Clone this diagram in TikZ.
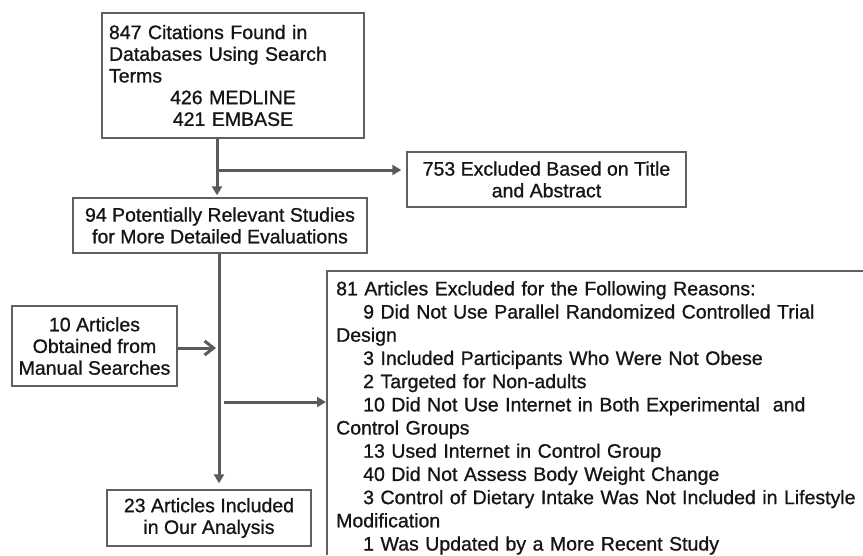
\documentclass[tikz,border=0pt]{standalone}
\usepackage{fontspec}
\setmainfont{Liberation Sans}[FakeBold=0.9]
\usetikzlibrary{arrows.meta}
\definecolor{linegray}{HTML}{5A5A5A}
\definecolor{boxgray}{HTML}{606060}
\definecolor{txt}{HTML}{151515}
\newcommand{\ind}{\hspace*{27pt}}
\begin{document}
\begin{tikzpicture}[x=1pt,y=-1pt,
  box/.style={draw=boxgray, line width=1.4pt, inner sep=0pt, align=center, text=txt,
    font=\fontsize{19.5}{21.7}\selectfont},
  conn/.style={draw=linegray, line width=3pt, -{Triangle[length=9pt,width=10pt]}},
  barb/.style={draw=linegray, line width=3pt, -{Straight Barb[length=9pt,width=14pt]}},
  edge/.style={draw=boxgray, line width=1.4pt}]
\useasboundingbox (0,0) rectangle (863,555);
\fill[white] (0,0) rectangle (863,555);

\node[box, minimum width=262pt, minimum height=125pt, text width=248pt, align=left] (top) at (233,75.5)
  {847 Citations Found in\\Databases Using Search\\Terms\\\makebox[248pt]{426 MEDLINE}\\\makebox[248pt]{421 EMBASE}};
\node[box, minimum width=279pt, minimum height=55pt] (exc) at (546.5,179.5)
  {753 Excluded Based on Title\\and Abstract};
\node[box, minimum width=294pt, minimum height=55pt] (rel) at (220,225.5)
  {94 Potentially Relevant Studies\\for More Detailed Evaluations};
\node[box, minimum width=165pt, minimum height=80pt] (man) at (94.5,346)
  {10 Articles\\Obtained from\\Manual Searches};
\node[box, minimum width=204pt, minimum height=56pt] (inc) at (209,518)
  {23 Articles Included\\in Our Analysis};

\coordinate (bigTL) at (327,271);
\coordinate (bigTR) at (863,271);
\coordinate (bigBL) at (327,555);
\draw[edge] (bigBL) -- (bigTL) -- (bigTR);
\node[anchor=north west, inner sep=0pt, text width=525pt, align=left, text=txt,
  font=\fontsize{19.5}{23.2}\selectfont] (big) at (336,281)
  {81 Articles Excluded for the Following Reasons:\\
   \ind 9 Did Not Use Parallel Randomized Controlled Trial\\
   Design\\
   \ind 3 Included Participants Who Were Not Obese\\
   \ind 2 Targeted for Non-adults\\
   \ind 10 Did Not Use Internet in Both Experimental~ and\\
   Control Groups\\
   \ind 13 Used Internet in Control Group\\
   \ind 40 Did Not Assess Body Weight Change\\
   \ind 3 Control of Dietary Intake Was Not Included in Lifestyle\\
   Modification\\
   \ind 1 Was Updated by a More Recent Study};

\coordinate (v1) at (217,0);
\coordinate (v2) at (219,0);
\coordinate (j1) at (217,170);
\coordinate (j2) at (224,402);
\coordinate (m) at (0,348);

\draw[conn, shorten >=2pt] (top.south -| v1) -- (rel.north -| v1);
\draw[conn, shorten >=5pt] (j1) -- (j1 -| exc.west);
\draw[conn, shorten >=6pt] (rel.south -| v2) -- (inc.north -| v2);
\draw[barb, shorten >=1pt] (man.east |- m) -- (m -| v1);
\draw[conn, shorten >=1pt] (j2) -- (j2 -| bigTL);
\end{tikzpicture}
\end{document}
